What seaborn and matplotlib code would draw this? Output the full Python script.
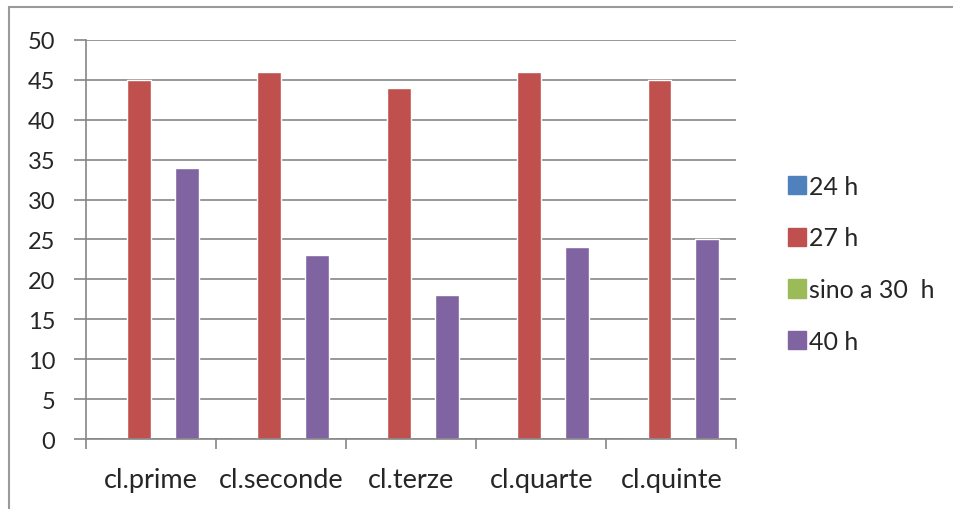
import matplotlib.pyplot as plt
import matplotlib.patches as mpatches
import seaborn as sns
import pandas as pd

# data
categories = ['cl.prime', 'cl.seconde', 'cl.terze', 'cl.quarte', 'cl.quinte']
series = ['24 h', '27 h', 'sino a 30  h', '40 h']
values_24h = [0, 0, 0, 0, 0]
values_27h = [45, 46, 44, 46, 45]
values_30h = [0, 0, 0, 0, 0]
values_40h = [34, 23, 18, 24, 25]
colors = ['#4F81BD', '#C0504D', '#9BBB59', '#8064A2']

rows = []
for name, vals in zip(series, [values_24h, values_27h, values_30h, values_40h]):
    for cat, v in zip(categories, vals):
        rows.append({'classe': cat, 'ore': name, 'valore': v})
df = pd.DataFrame(rows)

sns.set_style('white')
plt.rcParams['font.family'] = ['Lato', 'DejaVu Sans']

fig = plt.figure(figsize=(9.54, 5.10), dpi=100)
ax = fig.add_axes([0.090, 0.137, 0.682, 0.783])

sns.barplot(data=df, x='classe', y='valore', hue='ore', hue_order=series,
            palette=colors, width=0.735, ax=ax, legend=False,
            saturation=1, errorbar=None)

grid_col = '#868686'
text_col = '#262626'
ax.set_ylim(0, 50)
ax.set_xlim(-0.5, len(categories) - 0.5)
ax.set_yticks(range(0, 51, 5))
ax.yaxis.grid(True, color=grid_col, linewidth=1.2)
ax.set_axisbelow(True)
for s in ['top', 'right']:
    ax.spines[s].set_visible(False)
for s in ['left', 'bottom']:
    ax.spines[s].set_color(grid_col)
    ax.spines[s].set_linewidth(1.2)

# category ticks sit on the boundaries, labels in the middle
ax.set_xticks([i - 0.5 for i in range(len(categories) + 1)])
ax.set_xticklabels([''] * (len(categories) + 1))
ax.set_xticks(range(len(categories)), minor=True)
ax.set_xticklabels(categories, minor=True, fontsize=19.5, color=text_col)
ax.tick_params(axis='x', which='major', direction='out', length=7,
               color=grid_col, width=1.2, bottom=True)
ax.tick_params(axis='x', which='minor', length=0, pad=20)
ax.tick_params(axis='y', direction='out', length=9, color=grid_col,
               width=1.2, left=True, pad=13, labelsize=17, labelcolor=text_col)
ax.set_xlabel('')
ax.set_ylabel('')

handles = [mpatches.Patch(color=c, label=l) for c, l in zip(colors, series)]
fig.legend(handles=handles, loc='upper left', bbox_to_anchor=(0.815, 0.675),
           frameon=False, fontsize=18, handlelength=0.75, handleheight=0.75,
           handletextpad=0.1, labelspacing=1.15, borderaxespad=0,
           labelcolor=text_col)

# outer chart frame
fig.patches.append(mpatches.Rectangle((0.009, -0.05), 1.2, 1.035,
                                      transform=fig.transFigure, fill=False,
                                      edgecolor='#9a9a9a', linewidth=1.5))

plt.savefig('out.png', dpi=100)
plt.close()
